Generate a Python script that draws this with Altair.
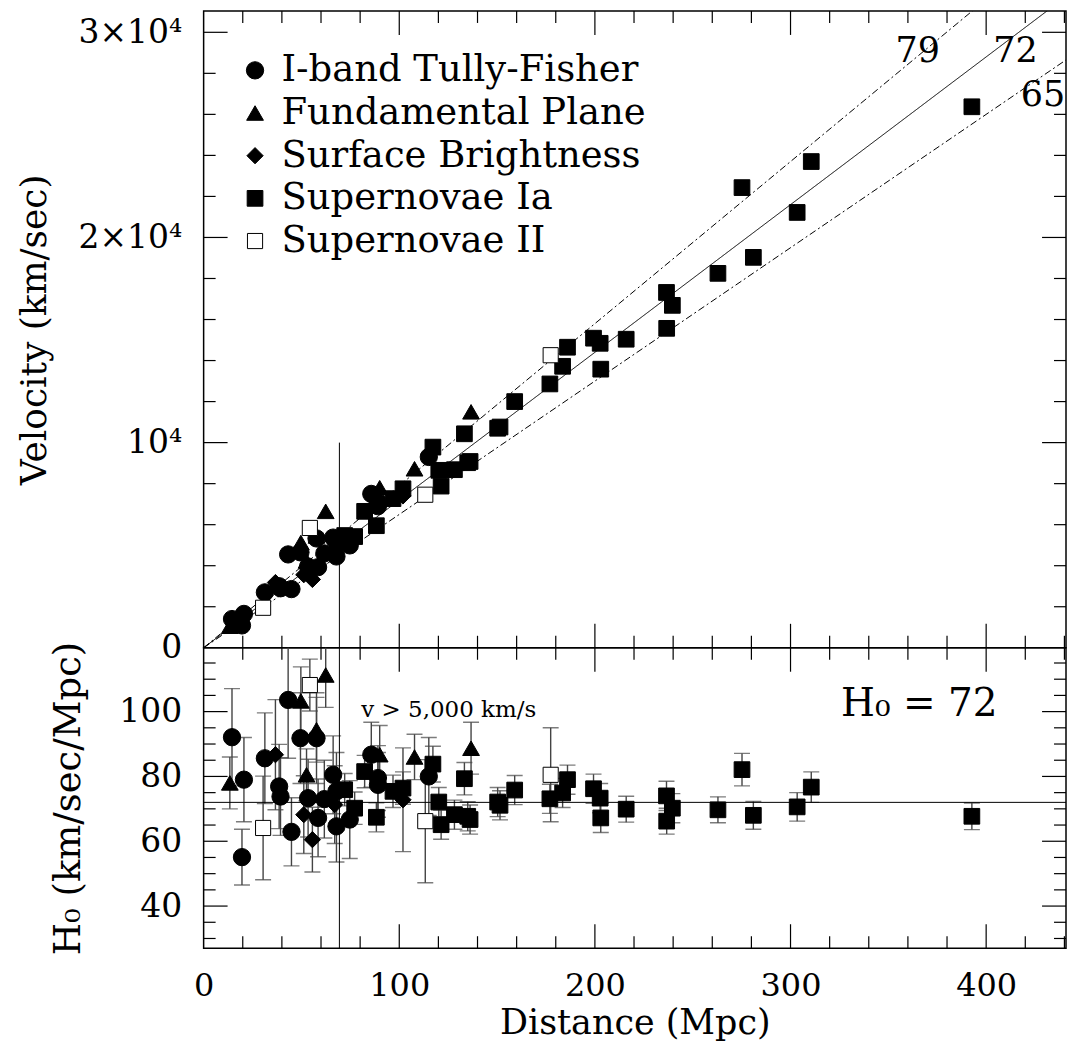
import altair as alt
import pandas as pd

FONT = "DejaVu Serif"

methods = ["I-band Tully-Fisher", "Fundamental Plane", "Surface Brightness",
           "Supernovae Ia", "Supernovae II"]

# I-band Tully-Fisher (filled circles)
tf_dist = [14.5, 20.6, 19.6, 31.3, 38.6, 39.3, 43.2, 44.9, 49.5, 57.7, 53.4,
           58.5, 66.2, 67.9, 67.9, 74.7, 85.7, 89.1, 89.1, 115.1, 61.7]
tf_vel = [1400, 1650, 1090, 2700, 3000, 2900, 4550, 2860, 4650, 5330, 3960,
          3930, 5370, 5150, 4450, 4990, 7500, 7100, 6900, 9300, 4600]
tf_h0 = [92.1, 79.0, 55.1, 85.6, 76.9, 73.8, 103.6, 62.9, 91.8, 91.8, 73.3,
         67.2, 80.5, 75.4, 64.6, 66.7, 86.7, 79.5, 77.4, 80.0, 73.0]
tf_err = [15, 13, 8.6, 14, 13, 12, 18, 10.5, 14, 14, 12,
          12, 12, 12, 11, 12, 10, 10, 10, 12, 12]

# Fundamental Plane (filled triangles)
fp_dist = [13.4, 49.7, 52.6, 57.7, 62.4, 90.0, 107.8, 136.7]
fp_vel = [1050, 5130, 4230, 5450, 6650, 7800, 8725, 11500]
fp_h0 = [78.0, 103.3, 80.5, 94.4, 111.3, 86.7, 86.0, 88.7]
fp_err = [8, 10.5, 8, 10, 10, 9, 7, 8]

# Surface Brightness (filled diamonds)
sbf_dist = [36.7, 51.2, 55.6, 67.0, 101.9]
sbf_vel = [3180, 3560, 3330, 4780, 7400]
sbf_h0 = [86.7, 68.2, 60.5, 71.3, 72.8]
sbf_err = [17, 12, 10, 12, 16]

# Supernovae Ia (filled squares)
sn1_dist = [72.1, 77.2, 82.3, 88.3, 96.8, 101.9, 117.2, 120.2, 121.4, 128.2,
            133.3, 135.0, 136.2, 150.3, 151.5, 159.0, 177.0, 183.5, 186.0, 199.3,
            202.7, 203.0, 216.0, 236.6, 239.6, 236.7, 262.9, 275.2, 281.0, 303.4,
            310.6, 392.7]
sn1_vel = [5470, 5420, 6650, 5950, 7270, 7750, 9780, 8650, 7880, 8680,
           10430, 9020, 9080, 10700, 10760, 12000, 12860, 13720, 14650, 15090,
           14840, 13580, 15040, 17320, 16690, 15570, 18250, 22430, 19030, 21220,
           23700, 26370]
sn1_h0 = [75.9, 70.2, 81.5, 67.4, 75.4, 76.4, 83.8, 72.1, 65.1, 68.2,
          79.3, 67.7, 66.7, 72.1, 71.1, 75.8, 73.1, 74.9, 79.0, 76.2,
          73.3, 67.2, 69.9, 74.0, 70.2, 66.2, 69.7, 82.1, 68.0, 70.6,
          76.7, 67.7]
sn1_err = [5, 5, 5, 4.5, 5, 5, 5.5, 4.5, 4.5, 4.5,
           5, 4.5, 4.5, 4.5, 4.5, 4.5, 4.5, 4.5, 4.5, 4.5,
           4.5, 4.5, 4, 4.5, 4.5, 4, 4, 5, 4.3, 4.4,
           4.7, 4.1]

# Supernovae II (open squares)
sn2_dist = [30.4, 54.3, 113.3, 177.4]
sn2_vel = [1950, 5840, 7460, 14260]
sn2_h0 = [64.1, 108.2, 66.2, 80.5]
sn2_err = [16, 8, 19, 14.5]

# Hubble-law reference lines and annotations
line_h = [65, 72, 79]
line_style = ["dashdot", "solid", "dashdot"]
line_label_text = ["79", "72", "65"]
line_label_dist = [365, 415, 429]
line_label_vel = [29100, 29100, 26960]
h0_fit = 72
cut_dist = 69.4       # distance where v = 5,000 km/s for H0 = 72
cut_top_vel = 10000   # top of the cut marker in the upper panel

# axis ticks
x_major = [100, 200, 300, 400]
x_minor = [20, 40, 60, 80, 120, 140, 160, 180, 220, 240, 260, 280, 320, 340,
           360, 380, 420, 440]
v_major = [10000, 20000, 30000]
v_minor = [2000, 4000, 6000, 8000, 12000, 14000, 16000, 18000, 22000, 24000,
           26000, 28000]
h_major = [40, 60, 80, 100]
h_minor = [30, 35, 45, 50, 55, 65, 70, 75, 85, 90, 95, 105, 110, 115]

W = 864
X_MAX = W / 1.96
V_MAX = 31040
H_MIN, H_MAX = 27, 119.7

H_TOP = 638
H_BOT = 301

frames = []
for m, d, v, h, e in [
    (methods[0], tf_dist, tf_vel, tf_h0, tf_err),
    (methods[1], fp_dist, fp_vel, fp_h0, fp_err),
    (methods[2], sbf_dist, sbf_vel, sbf_h0, sbf_err),
    (methods[3], sn1_dist, sn1_vel, sn1_h0, sn1_err),
    (methods[4], sn2_dist, sn2_vel, sn2_h0, sn2_err),
]:
    frames.append(pd.DataFrame({"method": m, "dist": d, "vel": v, "h0": h, "err": e}))
df = pd.concat(frames, ignore_index=True)

rows = []
for h, s in zip(line_h, line_style):
    rows.append({"H": h, "style": s, "dist": 0.0, "vel": 0.0})
    rows.append({"H": h, "style": s, "dist": X_MAX, "vel": h * X_MAX})
lines_df = pd.DataFrame(rows)

xs = alt.Scale(domain=[0, X_MAX], nice=False, zero=False)
vs = alt.Scale(domain=[0, V_MAX], nice=False, zero=False)
hs = alt.Scale(domain=[H_MIN, H_MAX], nice=False, zero=False)

shape_scale = alt.Scale(domain=methods, range=["circle", "triangle-up", "diamond", "square", "square"])
fill_scale = alt.Scale(domain=methods, range=["black", "black", "black", "black", "white"])
stroke_scale = alt.Scale(domain=methods, range=["black", "black", "black", "black", "black"])
size_scale = alt.Scale(domain=methods, range=[300, 230, 280, 170, 150])

legend = alt.Legend(title=None, orient="none", legendX=33, legendY=41,
                    labelFont=FONT, labelFontSize=37, labelColor="black",
                    symbolStrokeColor="black", symbolStrokeWidth=1,
                    rowPadding=4.75, padding=0, labelOffset=8, labelLimit=700)

# ---- axes (the same definition is used in every layer of a panel) ----
blank_x = alt.Axis(labels=False, ticks=False, domain=False, grid=False, title=None)
vel_axis = alt.Axis(
    values=[0, 10000, 20000, 30000],
    labelExpr="datum.value == 0 ? '0' : datum.value == 10000 ? '10⁴' : datum.value == 20000 ? '2×10⁴' : '3×10⁴'",
    tickSize=0, ticks=False, domain=False, grid=False, labelPadding=22,
    labelFont=FONT, labelFontSize=33, labelColor="black",
    title="Velocity (km/sec)", titleFont=FONT, titleFontSize=36,
    titleFontWeight="normal", titleColor="black", titlePadding=25,
    labelOverlap=False,
)
dist_axis = alt.Axis(
    values=[0, 100, 200, 300, 400], tickSize=0, ticks=False, domain=False, grid=False,
    labelPadding=22, labelFont=FONT, labelFontSize=32, labelColor="black",
    title="Distance (Mpc)", titleFont=FONT, titleFontSize=35,
    titleFontWeight="normal", titleColor="black", titlePadding=4,
    labelFlush=False, labelOverlap=False,
)
h_axis = alt.Axis(
    values=[40, 60, 80, 100], tickSize=0, ticks=False, domain=False, grid=False,
    labelPadding=22, labelFont=FONT, labelFontSize=33, labelColor="black",
    title="H₀ (km/sec/Mpc)", titleFont=FONT, titleFontSize=37,
    titleFontWeight="normal", titleColor="black", titlePadding=31,
    labelOverlap=False,
)


def tick_layers(xax, ys, yax, xmaj, xmin, ymaj, ymin, width, height, lmaj=24, lmin=12):
    out = []
    for vals, L in [(xmaj, lmaj), (xmin, lmin)]:
        base = alt.Chart(pd.DataFrame({"t": vals})).mark_rule(color="black", strokeWidth=1.2)
        xe = alt.X("t:Q", scale=xs, axis=xax)
        out.append(base.encode(x=xe, y=alt.value(0), y2=alt.value(L)))
        out.append(base.encode(x=xe, y=alt.value(height - L), y2=alt.value(height)))
    for vals, L in [(ymaj, lmaj), (ymin, lmin)]:
        base = alt.Chart(pd.DataFrame({"t": vals})).mark_rule(color="black", strokeWidth=1.2)
        ye = alt.Y("t:Q", scale=ys, axis=yax)
        out.append(base.encode(y=ye, x=alt.value(0), x2=alt.value(L)))
        out.append(base.encode(y=ye, x=alt.value(width - L), x2=alt.value(width)))
    return out


# ---------------- top panel ----------------
TX = lambda f: alt.X(f, scale=xs, axis=blank_x)
TY = lambda f: alt.Y(f, scale=vs, axis=vel_axis)

lines = alt.Chart(lines_df).mark_line(color="black", strokeWidth=1, clip=True).encode(
    x=TX("dist:Q"), y=TY("vel:Q"),
    detail="H:N",
    strokeDash=alt.StrokeDash("style:N", scale=alt.Scale(domain=["solid", "dashdot"],
                              range=[[1, 0], [7, 3, 2, 3]]), legend=None),
)

cut_top = alt.Chart(pd.DataFrame({"d": [cut_dist], "v0": [0], "v1": [cut_top_vel]})).mark_rule(
    color="black", strokeWidth=1).encode(x=TX("d:Q"), y=TY("v0:Q"), y2="v1:Q")

pts_top = alt.Chart(df).mark_point(filled=True, strokeWidth=1, opacity=1).encode(
    x=TX("dist:Q"), y=TY("vel:Q"),
    shape=alt.Shape("method:N", scale=shape_scale, legend=legend),
    fill=alt.Fill("method:N", scale=fill_scale, legend=legend),
    stroke=alt.Stroke("method:N", scale=stroke_scale, legend=legend),
    size=alt.Size("method:N", scale=size_scale, legend=legend),
)

lbl_top = alt.Chart(pd.DataFrame({"t": line_label_text, "d": line_label_dist, "v": line_label_vel})).mark_text(
    font=FONT, fontSize=35, color="black", clip=True).encode(
    x=TX("d:Q"), y=TY("v:Q"), text="t:N")

top = alt.layer(
    lines, cut_top, pts_top, lbl_top,
    *tick_layers(blank_x, vs, vel_axis, x_major, x_minor, v_major, v_minor, W, H_TOP),
).properties(width=W, height=H_TOP)

# ---------------- bottom panel ----------------
BX = lambda f: alt.X(f, scale=xs, axis=dist_axis)
BY = lambda f: alt.Y(f, scale=hs, axis=h_axis)

bars_base = alt.Chart(df).transform_calculate(
    lo="datum.h0 - datum.err", hi="datum.h0 + datum.err")

err_rule = bars_base.mark_rule(color="#444", strokeWidth=1.4, clip=True).encode(
    x=BX("dist:Q"), y=BY("lo:Q"), y2="hi:Q")
err_caps = bars_base.transform_fold(["lo", "hi"], as_=["end", "hv"]).mark_tick(
    orient="horizontal", size=16, thickness=1.4, color="#444", clip=True).encode(
    x=BX("dist:Q"), y=BY("hv:Q"))

hline = alt.Chart(pd.DataFrame({"h": [h0_fit]})).mark_rule(color="black", strokeWidth=1).encode(
    y=BY("h:Q"))
vline = alt.Chart(pd.DataFrame({"d": [cut_dist]})).mark_rule(color="black", strokeWidth=1).encode(
    x=BX("d:Q"))

pts_bot = alt.Chart(df).mark_point(filled=True, strokeWidth=1, opacity=1).encode(
    x=BX("dist:Q"), y=BY("h0:Q"),
    shape=alt.Shape("method:N", scale=shape_scale, legend=None),
    fill=alt.Fill("method:N", scale=fill_scale, legend=None),
    stroke=alt.Stroke("method:N", scale=stroke_scale, legend=None),
    size=alt.Size("method:N", scale=size_scale, legend=None),
)

note_df = pd.DataFrame({"t": ["v > 5,000 km/s"], "d": [80.6], "h": [100.6]})
note = alt.Chart(note_df).mark_text(font=FONT, fontSize=23, color="black", align="left").encode(
    x=BX("d:Q"), y=BY("h:Q"), text="t:N")

h0_df = pd.DataFrame({"t": ["H₀ = 72"], "d": [365.8], "h": [102.3]})
h0_text = alt.Chart(h0_df).mark_text(font=FONT, fontSize=39, color="black").encode(
    x=BX("d:Q"), y=BY("h:Q"), text="t:N")

bottom = alt.layer(
    err_rule, err_caps, hline, vline, pts_bot, note, h0_text,
    *tick_layers(dist_axis, hs, h_axis, x_major, x_minor, h_major, h_minor, W, H_BOT),
).properties(width=W, height=H_BOT)

chart = alt.vconcat(top, bottom, spacing=0, bounds="flush").resolve_scale(
    y="independent", shape="independent", fill="independent", size="independent",
    stroke="independent", strokeDash="independent",
).resolve_legend(
    shape="independent", fill="independent", size="independent", stroke="independent",
).properties(
    padding={"left": 7, "top": 0, "right": 0, "bottom": 0},
    background="white",
).configure_view(stroke="black", strokeWidth=1.5)

chart.save("out.html", embed_options={"renderer": "svg", "actions": False})
